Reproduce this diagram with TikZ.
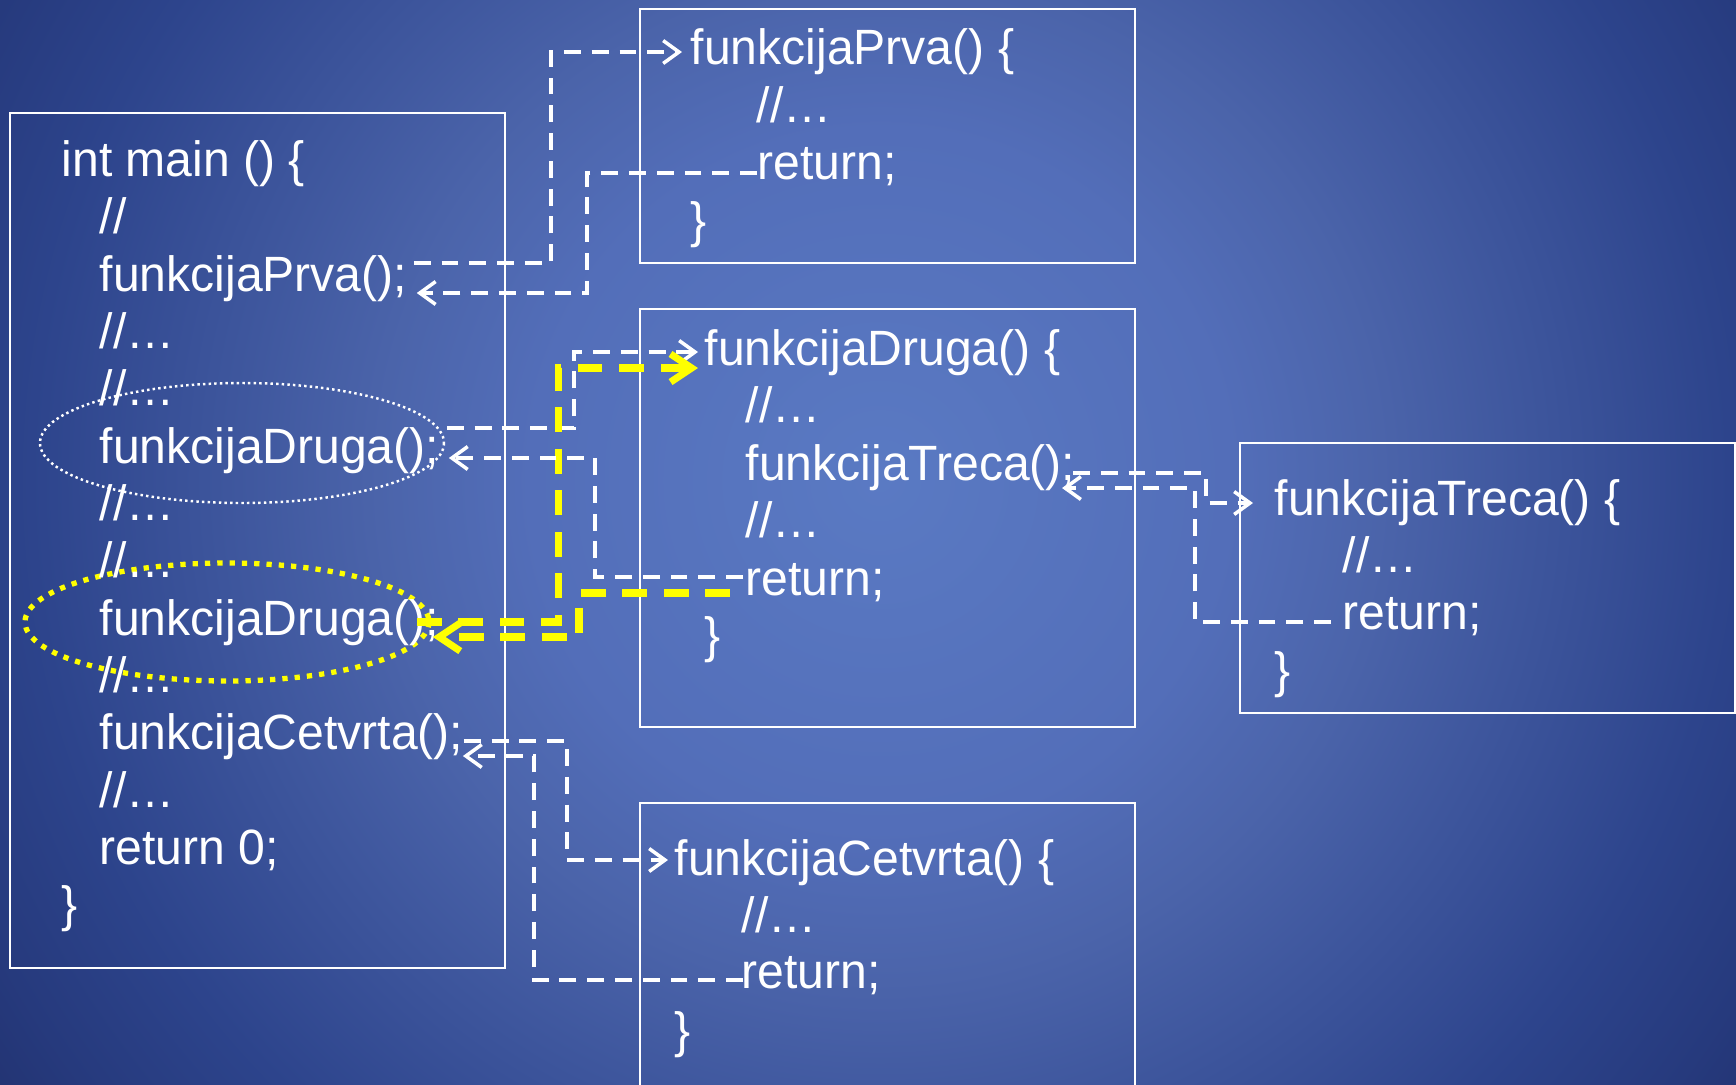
\documentclass[tikz,border=0pt]{standalone}
\usepackage{fontspec}
\setmainfont{Liberation Sans}[FakeStretch=0.97]
\usetikzlibrary{arrows.meta,calc}

\definecolor{hiyellow}{RGB}{255,255,0}
\pgfdeclareradialshading{bgglow}{\pgfpoint{0bp}{0bp}}{%
  rgb(0bp)=(0.353,0.478,0.765);
  rgb(8bp)=(0.325,0.431,0.725);
  rgb(11.4bp)=(0.294,0.392,0.667);
  rgb(19.3bp)=(0.176,0.267,0.549);
  rgb(22.7bp)=(0.149,0.227,0.490);
  rgb(25bp)=(0.133,0.196,0.439);
  rgb(50bp)=(0.133,0.196,0.439)}

\newcommand\codefont{\fontsize{14.1}{17}\selectfont}

\tikzset{
  code/.style={anchor=base west, inner sep=0pt, text=white, font=\codefont},
  frame/.style={draw=white, line width=0.7pt},
  call/.style={white, line width=1pt, dash pattern=on 4.8pt off 3.1pt,
    -{Straight Barb[length=4.5pt,width=6.5pt]}},
  hot/.style={hiyellow, line width=2pt, dash pattern=on 7pt off 4.8pt,
    -{Straight Barb[length=6pt,width=8pt]}},
  ring/.style={white, line width=0.7pt, dash pattern=on 0.7pt off 0.9pt},
  hotring/.style={hiyellow, line width=1.5pt, dash pattern=on 1.5pt off 2pt}
}

\begin{document}
\begin{tikzpicture}[x=0.01cm, y=-0.01cm]
  \useasboundingbox (0,0) rectangle (1736,1084);
  % background
  \begin{scope}
    \clip (0,0) rectangle (1736,1084);
    \shade[shading=bgglow] (880,480) circle [radius=1100];
  \end{scope}
  % frames
  \draw[frame] (10,113) rectangle (505,968);
  \draw[frame] (640,9) rectangle (1135,263);
  \draw[frame] (640,309) rectangle (1135,727);
  \draw[frame] (1240,443) rectangle (1735,713);
  \draw[frame] (640,803) rectangle (1135,1100);
  % highlighted calls
  \draw[ring] (242,443) ellipse [x radius=202, y radius=60];
  \draw[hotring] (227,622) ellipse [x radius=202, y radius=59];
  % main
  \node[code] (mHead) at (61,176) {int main () \{};
  \node[code] (mL1) at (99,233) {//};
  \node[code] (mPrva) at (99,291) {funkcijaPrva();};
  \node[code] (mL2) at (99,348) {//…};
  \node[code] (mL3) at (99,405) {//…};
  \node[code] (mDrugaA) at (99,463) {funkcijaDruga();};
  \node[code] (mL4) at (99,520) {//…};
  \node[code] (mL5) at (99,577) {//…};
  \node[code] (mDrugaB) at (99,635) {funkcijaDruga();};
  \node[code] (mL6) at (99,692) {//…};
  \node[code] (mCetvrta) at (99,749) {funkcijaCetvrta();};
  \node[code] (mL7) at (99,807) {//…};
  \node[code] (mRet) at (99,864) {return 0;};
  \node[code] (mEnd) at (61,921) {\}};
  % funkcijaPrva
  \node[code] (fPrva) at (690,64) {funkcijaPrva() \{};
  \node[code] (pL1) at (756,122) {//…};
  \node[code] (rPrva) at (757,179) {return;};
  \node[code] (pEnd) at (690,237) {\}};
  % funkcijaDruga
  \node[code] (fDruga) at (704,365) {funkcijaDruga() \{};
  \node[code] (dL1) at (745,422) {//…};
  \node[code] (dTreca) at (745,480) {funkcijaTreca();};
  \node[code] (dL2) at (745,537) {//…};
  \node[code] (rDruga) at (745,595) {return;};
  \node[code] (dEnd) at (704,652) {\}};
  % funkcijaTreca
  \node[code] (fTreca) at (1274,515) {funkcijaTreca() \{};
  \node[code] (tL1) at (1342,572) {//…};
  \node[code] (rTreca) at (1342,629) {return;};
  \node[code] (tEnd) at (1274,687) {\}};
  % funkcijaCetvrta
  \node[code] (fCetvrta) at (674,875) {funkcijaCetvrta() \{};
  \node[code] (cL1) at (741,932) {//…};
  \node[code] (rCetvrta) at (741,988) {return;};
  \node[code] (cEnd) at (674,1047) {\}};
  % calls
  \draw[call] ($(mPrva.base east)+(6,-28)$) -- ++(137,0) |- ($(fPrva.base west)+(-8,-12)$);
  \draw[call] ($(mDrugaA.base east)+(7,-35)$) -- ++(127,0) |- ($(fDruga.base west)+(-6,-13)$);
  \draw[hot] ($(mDrugaB.base east)+(-23,-13)$) -- ++(142,0) |- ($(fDruga.base west)+(-6,3)$);
  \draw[call] ($(mCetvrta.base east)+(0,-8)$) -- ++(103,0) |- ($(fCetvrta.base west)+(-6,-15)$);
  \draw[call] ($(dTreca.base east)+(-3,-7)$) -- ++(133,0) |- ($(fTreca.base west)+(-21,-12)$);
  % returns
  \draw[call] ($(rPrva.base west)+(0,-6)$) -- ++(-170,0) |- ($(mPrva.base east)+(9,2)$);
  \draw[call] ($(rDruga.base west)+(-2,-18)$) -- ++(-148,0) |- ($(mDrugaA.base east)+(9,-5)$);
  \draw[hot] ($(rDruga.base west)+(-15,-2)$) -- ++(-151,0) |- ($(mDrugaB.base east)+(-7,2)$);
  \draw[call] ($(rTreca.base west)+(-11,-7)$) -- ++(-136,0) |- ($(dTreca.base east)+(-14,8)$);
  \draw[call] ($(rCetvrta.base west)+(2,-8)$) -- ++(-209,0) |- ($(mCetvrta.base east)+(-1,7)$);
\end{tikzpicture}
\end{document}
